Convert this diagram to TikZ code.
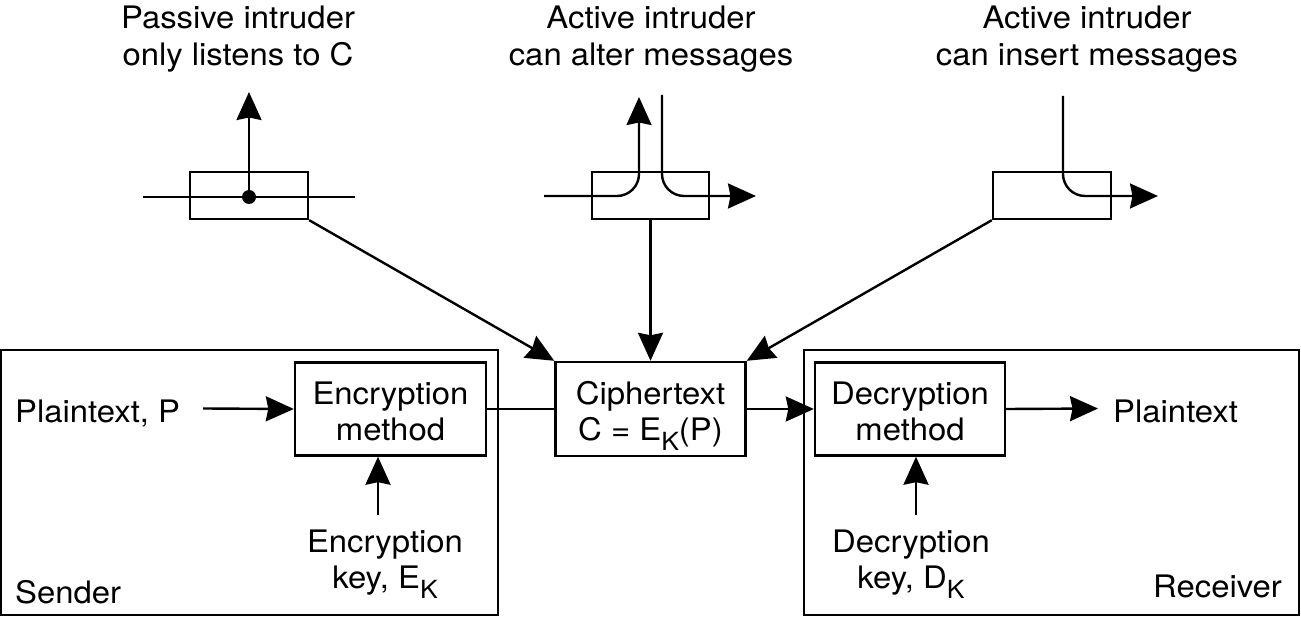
\documentclass[tikz,border=0pt]{standalone}
\usepackage{fontspec}
\setmainfont{TeX Gyre Heros}[FakeStretch=1.06]
\usetikzlibrary{arrows.meta}
\newcommand\tstrut{\rule{0pt}{36pt}}
\newcommand\bstrut{\rule[-9.5pt]{0pt}{9.5pt}}
\newcommand\lowsub[1]{\raisebox{-9.5pt}{\fontsize{25}{25}\selectfont #1}}
\begin{document}
\begin{tikzpicture}[x=1pt,y=-1pt,
  line width=2.4pt,
  txt/.style={inner sep=0pt, align=center, font=\fontsize{31}{36.5}\selectfont},
  box/.style={draw, line width=2.4pt, inner sep=0pt, align=center, font=\fontsize{31}{36.5}\selectfont},
  arr/.style={-{Stealth[length=28pt,width=25pt,inset=2.5pt]}}]
\useasboundingbox (0,0) rectangle (1301,617);

% outer frames
\node[box, minimum width=497pt, minimum height=265pt] (sender) at (249.5,482.5) {};
\node[box, minimum width=495pt, minimum height=265pt] (receiver) at (1051.5,482.5) {};

% main boxes
\node[box, minimum width=191pt, minimum height=93pt] (enc) at (390.5,409) {\tstrut Encryption\\method\bstrut};
\node[box, minimum width=190pt, minimum height=94pt] (ciph) at (650.5,409) {\tstrut Ciphertext\\C = E\lowsub{K}(P)\bstrut};
\node[box, minimum width=190pt, minimum height=93pt] (dec) at (910,409) {\tstrut Decryption\\method\bstrut};

% labels
\node[txt, anchor=base west] (pin) at (14,422) {Plaintext, P};
\node[txt, anchor=base west] (pout) at (1112,422) {Plaintext};
\node[txt, anchor=base west] (sl) at (14,603) {Sender};
\node[txt, anchor=base east] (rl) at (1283,597) {Receiver};
\node[txt] (ekl) at (385,557) {\tstrut Encryption\\key, E\lowsub{K}\bstrut};
\node[txt] (dkl) at (911,557) {\tstrut Decryption\\key, D\lowsub{K}\bstrut};
\node[txt] (tpas) at (238,34) {\tstrut Passive intruder\\only listens to C\bstrut};
\node[txt] (talt) at (651,34) {\tstrut Active intruder\\can alter messages\bstrut};
\node[txt] (tins) at (1087,34) {\tstrut Active intruder\\can insert messages\bstrut};

% intruder boxes
\node[box, minimum width=118pt, minimum height=47pt] (pas) at (249,195.5) {};
\node[box, minimum width=117pt, minimum height=47pt] (alt) at (650.5,195.5) {};
\node[box, minimum width=118pt, minimum height=47pt] (ins) at (1052,195.5) {};

% free ends
\coordinate (p1) at (203,408.5);
\coordinate (p2) at (1098,408.5);
\coordinate (ek) at (378,515);
\coordinate (dk) at (916,515);
\coordinate (pl) at (143,197);
\coordinate (pr) at (355,197);
\coordinate (pd) at (249,197);
\coordinate (pt) at (249,92);
\coordinate (al) at (544,196);
\coordinate (au) at (639,97);
\coordinate (ad) at (662,95);
\coordinate (ar) at (756,196);
\coordinate (id) at (1063,96);
\coordinate (ir) at (1158,196);

% bottom connectors
\draw[arr] (p1) -- (enc.west);
\draw (enc.east) -- (ciph.west);
\draw[arr] (ciph.east) -- (dec.west);
\draw[arr] (dec.east) -- (p2);
\draw[arr] (ek) -- (ek |- enc.south);
\draw[arr] (dk) -- (dk |- dec.south);

% passive intruder
\draw (pl) -- (pr);
\fill (pd) circle (7);
\draw[arr] (pd) -- (pt);
\draw[arr] (pas.south east) -- (ciph.north west);

% active alter
\draw[arr, rounded corners=22pt] (al) -- (au |- al) -- (au);
\draw[arr, rounded corners=22pt] (ad) -- (ad |- ar) -- (ar);
\draw[arr] (alt.south) -- (ciph.north);

% active insert
\draw[arr, rounded corners=22pt] (id) -- (id |- ir) -- (ir);
\draw[arr] (ins.south west) -- (ciph.north east);
\end{tikzpicture}
\end{document}
